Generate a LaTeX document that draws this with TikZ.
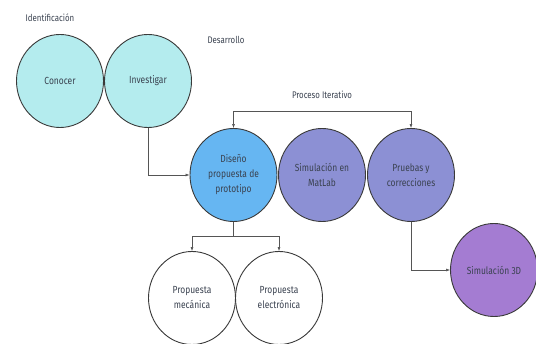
\documentclass[tikz,border=0pt]{standalone}
\usepackage{fontspec}
\setmainfont[FakeStretch=0.82]{Fira Sans}
\usetikzlibrary{shapes.geometric,arrows.meta}
\definecolor{cyanfill}{HTML}{B4ECEE}
\definecolor{bluefill}{HTML}{66B6F2}
\definecolor{perifill}{HTML}{8C90D4}
\definecolor{purpfill}{HTML}{A47CD2}
\definecolor{txt}{HTML}{3A4250}
\definecolor{edge}{HTML}{3A3A3A}
\definecolor{conn}{HTML}{555555}
\tikzset{
  bubble/.style={ellipse, draw=edge, line width=0.9pt, minimum width=87pt, minimum height=93pt,
    inner sep=0pt, align=center, text=txt, font=\fontsize{10.3}{15}\selectfont},
  lbl/.style={text=txt, font=\fontsize{9.6}{11}\selectfont, inner sep=0pt},
  conx/.style={draw=conn, line width=0.6pt},
  arr/.style={conx, -{Latex[length=4pt,width=3pt]}},
}
\begin{document}
\begin{tikzpicture}[x=1pt,y=1pt]
\useasboundingbox (0,0) rectangle (536,-344);
\node[bubble, fill=cyanfill] (cono) at (60,-81) {Conocer};
\node[bubble, fill=cyanfill] (inve) at (148,-81) {Investigar};
\node[bubble, fill=bluefill] (dise) at (233.5,-175) {Diseño\\propuesta de\\prototipo};
\node[bubble, fill=perifill] (mat) at (322,-175) {Simulación en\\MatLab};
\node[bubble, fill=perifill] (prue) at (411,-175) {Pruebas y\\correcciones};
\node[bubble, fill=purpfill] (sim3) at (494,-270) {Simulación 3D};
\node[bubble, fill=white] (mec) at (192,-298) {Propuesta\\mecánica};
\node[bubble, fill=white] (ele) at (279,-298) {Propuesta\\electrónica};
\node[lbl] (ident) at (50,-18) {Identificación};
\node[lbl] (desa) at (226,-40) {Desarrollo};
\node[lbl] (proc) at (322,-95) {Proceso Iterativo};
\draw[arr] (inve.south) |- (dise.west);
\draw[arr, {Latex[length=4pt,width=3pt]}-{Latex[length=4pt,width=3pt]}] (dise.north) -- ++(0,17) -| (prue.north);
\draw[conx] (dise.south) -- ++(0,-14) coordinate (br);
\draw[arr] (br) -| (mec.north);
\draw[arr] (br) -| (ele.north);
\draw[arr] (prue.south) |- (sim3.west);
\end{tikzpicture}
\end{document}
